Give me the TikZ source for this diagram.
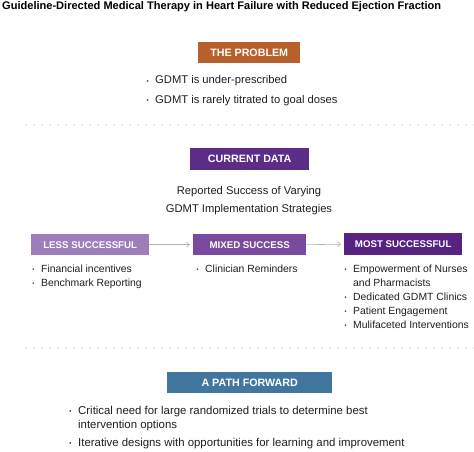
\documentclass[tikz,border=0pt]{standalone}
\usepackage{fontspec}
\setmainfont{Liberation Sans}
\usetikzlibrary{arrows.meta}
\definecolor{cOrange}{HTML}{B8602C}
\definecolor{cPurple}{HTML}{5C2D87}
\definecolor{cLight}{HTML}{9E7DBB}
\definecolor{cMid}{HTML}{7A4A9F}
\definecolor{cDark}{HTML}{582283}
\definecolor{cBlue}{HTML}{41779F}
\definecolor{cText}{HTML}{1E1E1E}
\tikzset{
  hdr/.style={fill=#1, text=white, font=\bfseries\fontsize{10.7}{12}\selectfont, inner sep=0pt, anchor=north west},
  rowhdr/.style={hdr=#1, font=\bfseries\fontsize{9.7}{12}\selectfont},
  itm/.style={anchor=base west, inner sep=0pt, text=cText, font=\fontsize{11.2}{13}\selectfont},
  sitm/.style={itm, font=\fontsize{10.4}{12}\selectfont},
  pitm/.style={itm, font=\fontsize{11.4}{13}\selectfont},
  dotline/.style={gray!70, line width=1.4pt, dash pattern=on 0pt off 8pt, line cap=round},
  conn/.style={gray!60, line width=0.6pt, -{Straight Barb[length=3pt,width=5pt]}, shorten >=3pt}
}
\newcommand{\bul}{\makebox[9pt][l]{\hspace{0.3pt}\raisebox{0.6pt}{\scalebox{0.55}{\textbullet}}}}
\begin{document}
\begin{tikzpicture}[x=1pt,y=-1pt]
\useasboundingbox (0,0) rectangle (474,452);
\node[anchor=base west, inner sep=0pt, font=\bfseries\fontsize{11.05}{12}\selectfont] (title) at (2,9.5) {Guideline-Directed Medical Therapy in Heart Failure with Reduced Ejection Fraction};

% The problem
\node[hdr=cOrange, minimum width=102pt, minimum height=21pt] (prob) at (198,42) {THE PROBLEM};
\node[itm] (p1) at (146,84) {\bul GDMT is under-prescribed};
\node[itm] (p2) at (146,103) {\bul GDMT is rarely titrated to goal doses};

\coordinate (d1a) at (26,125);
\coordinate (d1b) at (474,125);
\draw[dotline] (d1a) -- (d1b);

% Current data
\node[hdr=cPurple, minimum width=119pt, minimum height=22pt] (cur) at (190,148) {CURRENT DATA};
\node[anchor=base, inner sep=0pt, text=cText, font=\fontsize{11.2}{13}\selectfont] (r1) at (249,194) {Reported Success of Varying};
\node[anchor=base, inner sep=0pt, text=cText, font=\fontsize{11.2}{13}\selectfont] (r2) at (249,212) {GDMT Implementation Strategies};

\node[rowhdr=cLight, minimum width=118pt, minimum height=21pt] (less) at (31,234) {LESS SUCCESSFUL};
\node[rowhdr=cMid, minimum width=113pt, minimum height=21pt] (mixed) at (193,234) {MIXED SUCCESS};
\node[rowhdr=cDark, minimum width=118pt, minimum height=22pt] (most) at (344,233) {MOST SUCCESSFUL};
\draw[conn] (less.east) -- (mixed.west);
\draw[conn] (mixed.east) -- (most.west);

\node[sitm] (l1) at (32,272) {\bul Financial incentives};
\node[sitm] (l2) at (32,286) {\bul Benchmark Reporting};
\node[sitm] (m1) at (196,272) {\bul Clinician Reminders};
\node[sitm] (s1) at (344,272) {\bul Empowerment of Nurses};
\node[sitm] (s1b) at (353,286) {and Pharmacists};
\node[sitm] (s2) at (344,300) {\bul Dedicated GDMT Clinics};
\node[sitm] (s3) at (344,314) {\bul Patient Engagement};
\node[sitm] (s4) at (344,328) {\bul Mulifaceted Interventions};

\coordinate (d2a) at (26,348);
\coordinate (d2b) at (474,348);
\draw[dotline] (d2a) -- (d2b);

% Path forward
\node[hdr=cBlue, minimum width=165pt, minimum height=21pt] (path) at (167,372) {A PATH FORWARD};
\node[pitm] (f1) at (69,414) {\bul Critical need for large randomized trials to determine best};
\node[pitm] (f1b) at (78,428) {intervention options};
\node[pitm] (f2) at (69,446) {\bul Iterative designs with opportunities for learning and improvement};
\end{tikzpicture}
\end{document}
